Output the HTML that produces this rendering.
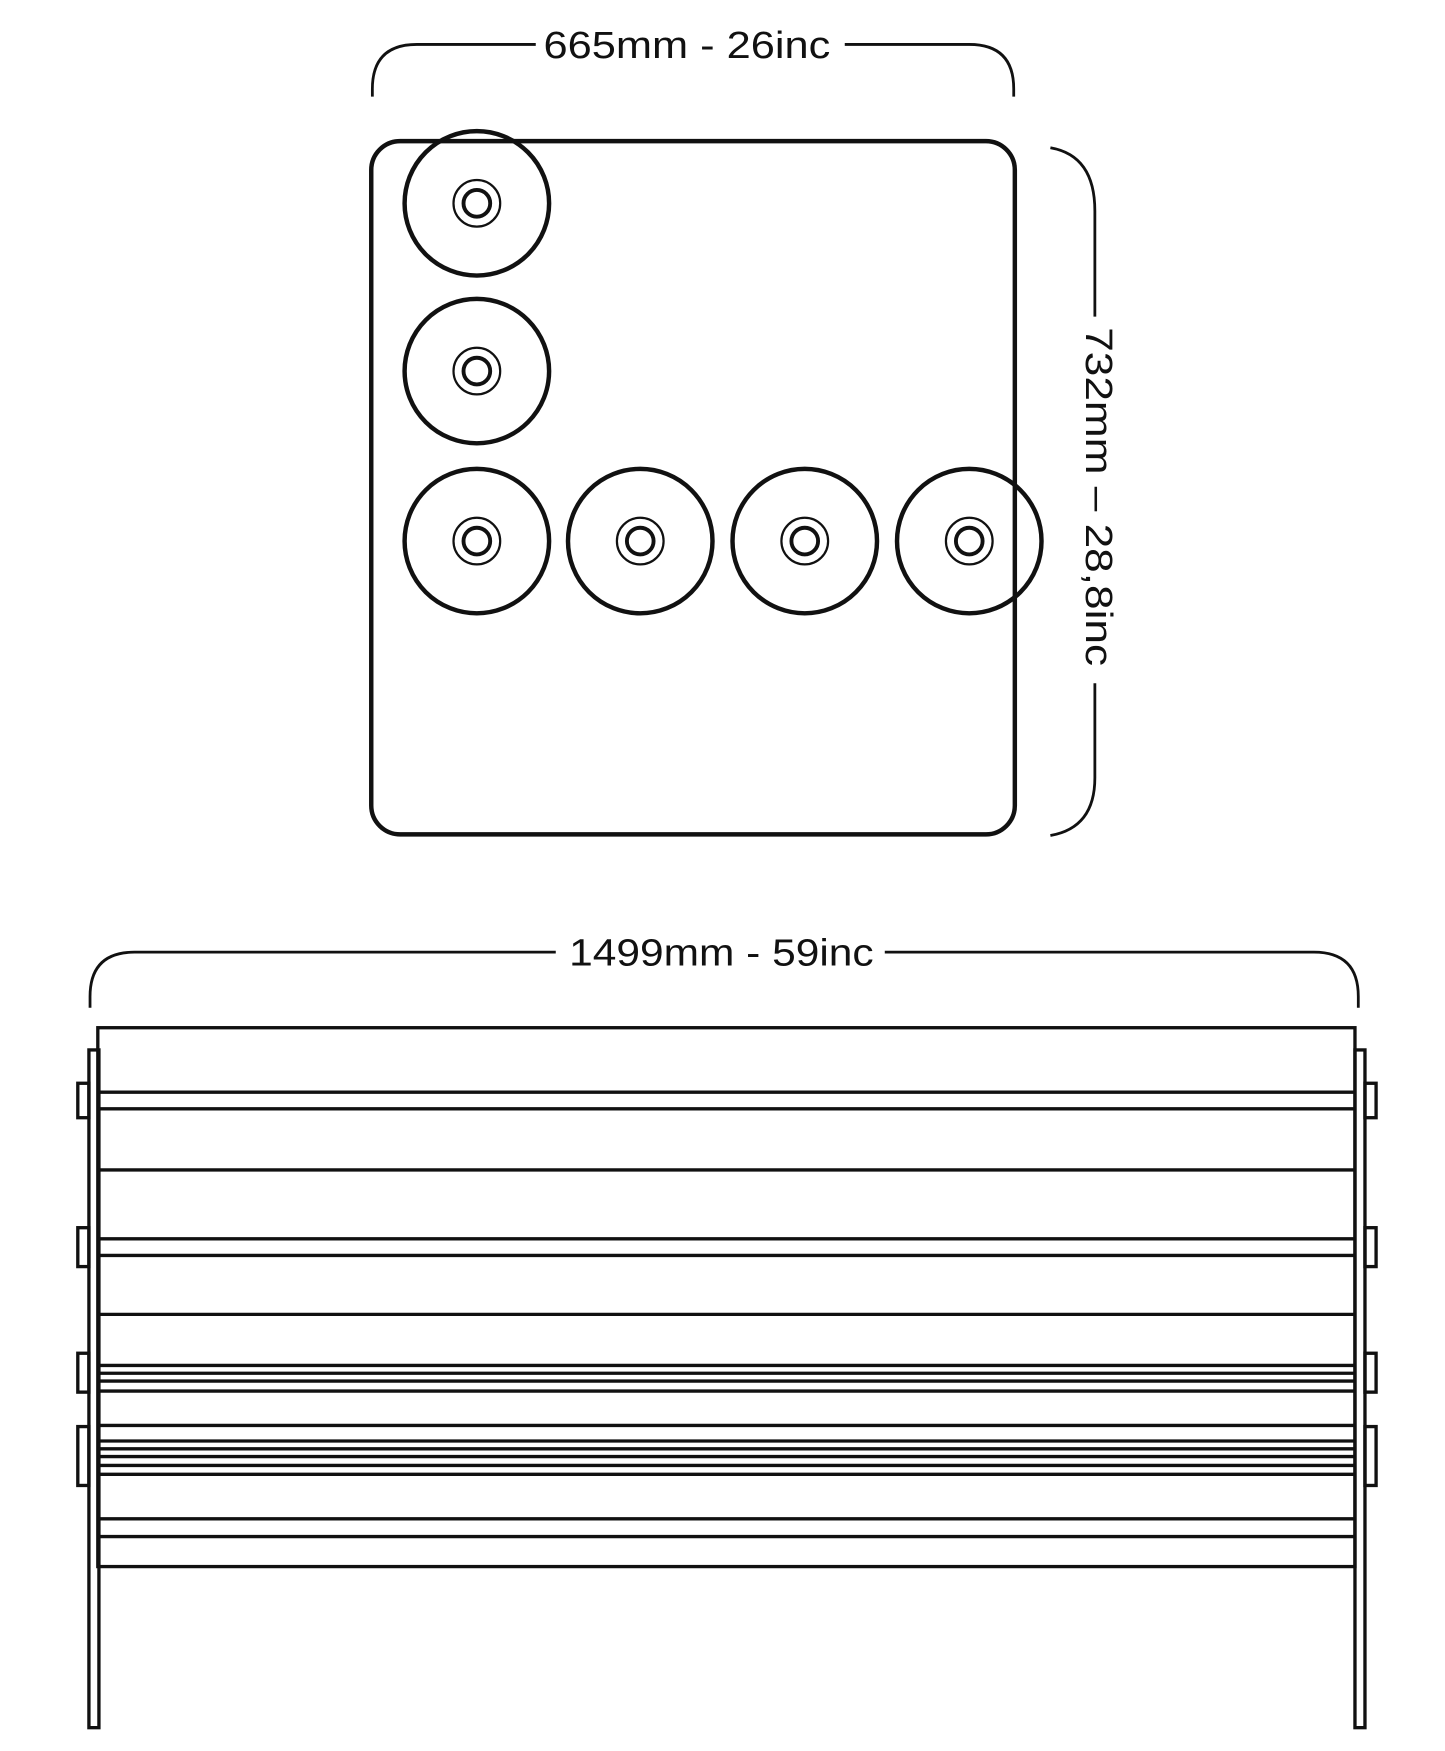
<!DOCTYPE html>
<html><head><meta charset="utf-8"><style>html,body{margin:0;padding:0;background:#fff}svg{display:block}</style></head>
<body>
<svg width="1445" height="1751" viewBox="0 0 1300 1576" preserveAspectRatio="none" xmlns="http://www.w3.org/2000/svg">
<g fill="none" stroke="#111" stroke-linecap="butt">
<!-- top dimension -->
<path d="M335 87 V80 Q335 40 375 40 H482" stroke-width="2.5"/>
<path d="M760 40 H872 Q912 40 912 80 V87" stroke-width="2.5"/>
<!-- right dimension -->
<path d="M945 133 Q985 140 985 190 V285" stroke-width="2.5"/>
<path d="M985 615 V700 Q985 745 945 752" stroke-width="2.5"/>
<!-- panel -->
<rect x="334" y="127" width="579" height="624" rx="26" stroke-width="4"/>
<g stroke-width="4">
<circle cx="429" cy="183" r="65"/><circle cx="429" cy="334" r="65"/>
<circle cx="429" cy="487" r="65"/><circle cx="576" cy="487" r="65"/>
<circle cx="724" cy="487" r="65"/><circle cx="872" cy="487" r="65"/>
</g>
<g stroke-width="2">
<circle cx="429" cy="183" r="21"/><circle cx="429" cy="334" r="21"/>
<circle cx="429" cy="487" r="21"/><circle cx="576" cy="487" r="21"/>
<circle cx="724" cy="487" r="21"/><circle cx="872" cy="487" r="21"/>
</g>
<g stroke-width="3.5">
<circle cx="429" cy="183" r="12"/><circle cx="429" cy="334" r="12"/>
<circle cx="429" cy="487" r="12"/><circle cx="576" cy="487" r="12"/>
<circle cx="724" cy="487" r="12"/><circle cx="872" cy="487" r="12"/>
</g>
<!-- bottom dimension -->
<path d="M81 907 V897 Q81 857 121 857 H500" stroke-width="2.5"/>
<path d="M796 857 H1182 Q1222 857 1222 897 V907" stroke-width="2.5"/>
<!-- frame -->
<g stroke-width="3">
<rect x="88" y="925" width="1131" height="485"/>
<rect x="80" y="945" width="9" height="610"/>
<rect x="1219" y="945" width="9" height="610"/>
<rect x="70" y="975" width="10" height="31"/>
<rect x="70" y="1105" width="10" height="35"/>
<rect x="70" y="1218" width="10" height="35"/>
<rect x="70" y="1284" width="10" height="53"/>
<rect x="1228" y="975" width="10" height="31"/>
<rect x="1228" y="1105" width="10" height="35"/>
<rect x="1228" y="1218" width="10" height="35"/>
<rect x="1228" y="1284" width="10" height="53"/>
</g>
<g stroke-width="3">
<path d="M88 983H1219M88 998H1219M88 1053H1219M88 1115H1219M88 1130H1219M88 1183H1219M88 1229H1219M88 1236H1219M88 1243H1219M88 1252H1219M88 1283H1219M88 1297H1219M88 1304H1219M88 1311H1219M88 1319H1219M88 1327H1219M88 1367H1219M88 1383H1219"/>
</g>
</g>
<g font-family="'Liberation Sans Narrow','Liberation Sans',sans-serif" font-size="34" fill="#111">
<text x="618" y="52" text-anchor="middle" textLength="258" lengthAdjust="spacingAndGlyphs">665mm - 26inc</text>
<text x="649" y="869" text-anchor="middle" textLength="274" lengthAdjust="spacingAndGlyphs">1499mm - 59inc</text>
<text transform="translate(977,447) rotate(90)" text-anchor="middle" textLength="305" lengthAdjust="spacingAndGlyphs">732mm – 28,8inc</text>
</g>
</svg>
</body></html>
